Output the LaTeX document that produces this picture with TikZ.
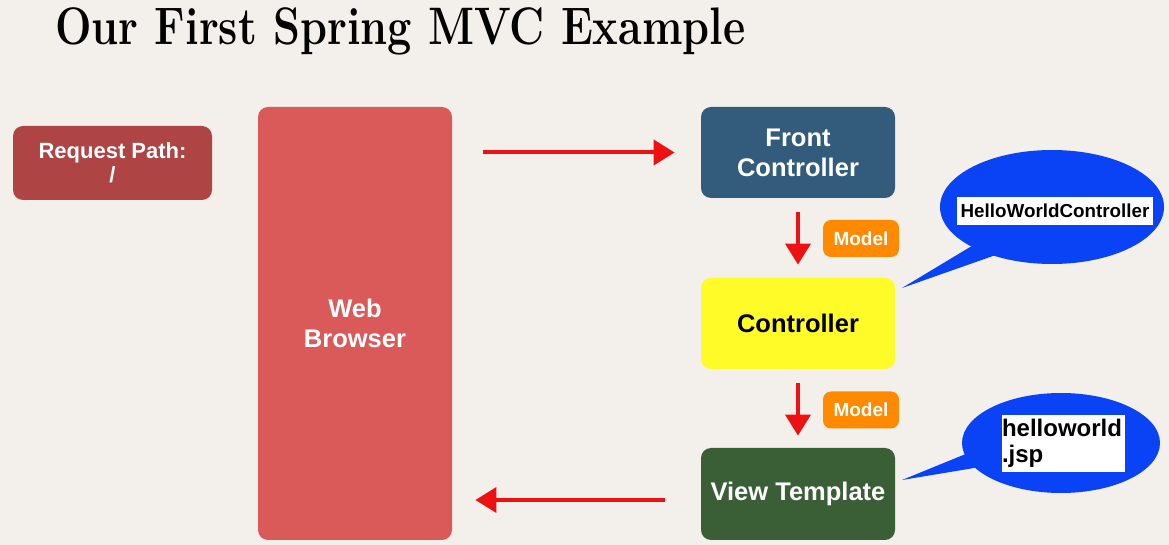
\documentclass[tikz,border=0pt]{standalone}
\usepackage{fontspec}
\usepackage{graphicx}
\setsansfont{Liberation Sans}
\usetikzlibrary{arrows.meta,shapes.geometric,positioning}
\definecolor{paper}{HTML}{F3F0EB}
\definecolor{pathred}{HTML}{AE4444}
\definecolor{browserred}{HTML}{D95A58}
\definecolor{frontblue}{HTML}{325B7C}
\definecolor{ctrlyellow}{HTML}{FFFB28}
\definecolor{viewgreen}{HTML}{3A5E36}
\definecolor{modelorange}{HTML}{FF8A00}
\definecolor{bubbleblue}{HTML}{0A43F5}
\definecolor{arrowred}{HTML}{EE1111}
\begin{document}
\begin{tikzpicture}[x=0.5pt,y=-0.5pt,
    box/.style={rounded corners=5pt, inner sep=0pt, align=center, text=white,
      minimum width=97pt, minimum height=45.5pt,
      font=\sffamily\bfseries\fontsize{12.75}{15}\selectfont},
    model/.style={rounded corners=4pt, inner sep=0pt, text=white, fill=modelorange,
      minimum width=38pt, minimum height=18.5pt,
      font=\sffamily\bfseries\fontsize{9.5}{11}\selectfont},
    flow/.style={arrowred, line width=2pt, -{Triangle[length=10.5pt,width=12.5pt]}},
    bubble/.style={ellipse, fill=bubbleblue, inner sep=0pt},
    namebox/.style={fill=white, inner sep=0pt, font=\sffamily\bfseries}]
    \fill[paper] (0,0) rectangle (1169,545);
    \useasboundingbox (0,0) rectangle (1169,545);
    \node[anchor=base west, inner sep=0pt, font=\bfseries\fontsize{26.4}{30}\selectfont] (title) at (55,45)
        {\resizebox{345pt}{\height}{Our First Spring MVC Example}};

    \node[box, fill=pathred, minimum width=99.5pt, minimum height=37pt,
        font=\sffamily\bfseries\fontsize{11}{12}\selectfont] (path) at (112.5,163) {Request Path:\\/};
    \node[box, fill=browserred, minimum height=216.5pt] (browser) at (355,323.5) {Web\\Browser};
    \node[box, fill=frontblue] (front) at (798,152.5) {Front\\Controller};
    \node[box, fill=ctrlyellow, text=black] (ctrl) at (798,323.5) {Controller};
    \node[box, fill=viewgreen, minimum height=46pt] (view) at (798,494) {View Template};
    \node[model] (modelA) at (861,238.5) {Model};
    \node[model] (modelB) at (861,410) {Model};

    \draw[flow, shorten <=15.5pt, shorten >=13pt] (front.west -| browser.east) -- (front.west);
    \draw[flow, shorten <=7pt, shorten >=6.5pt] (front.south) -- (ctrl.north);
    \draw[flow, shorten <=7pt, shorten >=6pt] (ctrl.south) -- (view.north);
    \coordinate (viewout) at ([yshift=-3pt]view.west);
    \draw[flow, shorten <=18pt, shorten >=11.5pt] (viewout) -- (viewout -| browser.east);

    \coordinate (hwtip) at (902,288);
    \fill[bubbleblue] (995,232) -- (hwtip) -- (1010,250) -- cycle;
    \node[bubble, minimum width=112pt, minimum height=57pt] (hwbubble) at (1052,207) {};
    \node[namebox, minimum width=98pt, minimum height=14pt,
        font=\sffamily\bfseries\fontsize{9.4}{11}\selectfont] (hwname) at (1055,211) {HelloWorldController};

    \coordinate (jsptip) at (902,480);
    \fill[bubbleblue] (1000,440) -- (jsptip) -- (1010,462) -- cycle;
    \node[bubble, minimum width=99pt, minimum height=50pt] (jspbubble) at (1061,443) {};
    \node[namebox, text width=61.5pt, minimum height=28.5pt, align=left,
        font=\sffamily\bfseries\fontsize{12}{13}\selectfont] (jspname) at (1063.5,443.5) {helloworld\\.jsp};
\end{tikzpicture}
\end{document}
